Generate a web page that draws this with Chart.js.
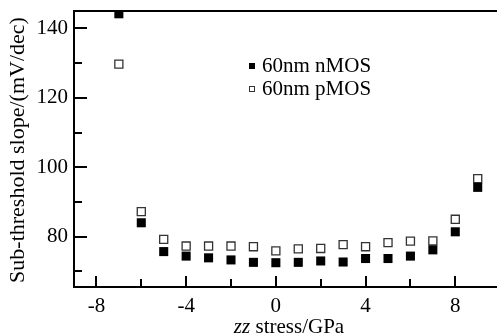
<!DOCTYPE html>
<html>
<head>
<meta charset="utf-8">
<script src="https://cdn.jsdelivr.net/npm/chart.js@4/dist/chart.umd.min.js"></script>
<style>
  html, body { margin: 0; padding: 0; background: #fff; overflow: hidden; }
  #wrap { width: 497px; height: 336px; }
</style>
</head>
<body>
<div id="wrap"><canvas id="chart"></canvas></div>
<script>
// data
const stress = [-7, -6, -5, -4, -3, -2, -1, 0, 1, 2, 3, 4, 5, 6, 7, 8, 9];
const nMOS = [144.2, 84.0, 75.7, 74.4, 73.9, 73.3, 72.6, 72.5, 72.6, 73.0, 72.7, 73.7, 73.7, 74.4, 76.2, 81.4, 94.2];
const pMOS = [129.7, 87.2, 79.2, 77.3, 77.3, 77.3, 77.1, 75.9, 76.5, 76.6, 77.7, 77.1, 78.3, 78.7, 78.8, 85.0, 96.7];
const seriesNames = ['60nm nMOS', '60nm pMOS'];
const xTicks = [-8, -4, 0, 4, 8];
const xMinor = [-6, -2, 2, 6];
const yTicks = [80, 100, 120, 140];
const yMinor = [70, 90, 110, 130];

const FONT = "'Liberation Serif', 'Times New Roman', serif";

// frame, inward ticks, legend and axis titles
const decor = {
    id: 'decor',
    afterDraw(chart) {
        const ctx = chart.ctx;
        const a = chart.chartArea;
        const xs = chart.scales.x, ys = chart.scales.y;
        ctx.save();
        ctx.strokeStyle = '#000';
        ctx.lineWidth = 2;
        ctx.beginPath();
        ctx.moveTo(a.left, a.top);
        ctx.lineTo(a.right, a.top);
        xTicks.forEach(v => { const p = Math.round(xs.getPixelForValue(v)); ctx.moveTo(p, a.bottom); ctx.lineTo(p, a.bottom - 11); });
        xMinor.forEach(v => { const p = Math.round(xs.getPixelForValue(v)); ctx.moveTo(p, a.bottom); ctx.lineTo(p, a.bottom - 8); });
        yTicks.forEach(v => { const p = Math.round(ys.getPixelForValue(v)); ctx.moveTo(a.left, p); ctx.lineTo(a.left + 13, p); });
        yMinor.forEach(v => { const p = Math.round(ys.getPixelForValue(v)); ctx.moveTo(a.left, p); ctx.lineTo(a.left + 8, p); });
        ctx.stroke();

        // legend
        ctx.font = '21px ' + FONT;
        ctx.fillStyle = '#000';
        ctx.textBaseline = 'middle';
        ctx.textAlign = 'left';
        const ly = [66, 89];
        ctx.fillRect(249, ly[0] - 3, 6, 6);
        ctx.fillText(seriesNames[0], 262, ly[0]);
        ctx.lineWidth = 1;
        ctx.strokeStyle = '#333';
        ctx.strokeRect(249.5, ly[1] - 2.5, 5, 5);
        ctx.fillText(seriesNames[1], 262, ly[1]);

        // x title with italic "zz"
        ctx.textBaseline = 'alphabetic';
        ctx.font = 'italic 21px ' + FONT;
        const w1 = ctx.measureText('zz').width;
        ctx.font = '21px ' + FONT;
        const w2 = ctx.measureText(' stress/GPa').width;
        let x0 = 289 - (w1 + w2) / 2;
        ctx.font = 'italic 21px ' + FONT;
        ctx.fillText('zz', x0, 333);
        ctx.font = '21px ' + FONT;
        ctx.fillText(' stress/GPa', x0 + w1, 333);

        // y title
        ctx.font = '22px ' + FONT;
        ctx.translate(18, 150);
        ctx.rotate(-Math.PI / 2);
        ctx.textAlign = 'center';
        ctx.textBaseline = 'middle';
        ctx.fillText('Sub-threshold slope/(mV/dec)', 0, 0);
        ctx.restore();
    }
};

const ctx = document.getElementById('chart').getContext('2d');
new Chart(ctx, {
    type: 'scatter',
    data: {
        datasets: [{
            label: seriesNames[0],
            data: stress.map((x, i) => ({ x: x, y: nMOS[i] })),
            pointStyle: 'rect',
            pointRadius: 6.4,
            pointBackgroundColor: '#000',
            pointBorderColor: '#000',
            pointBorderWidth: 0,
            clip: 0
        }, {
            label: seriesNames[1],
            data: stress.map((x, i) => ({ x: x, y: pMOS[i] })),
            pointStyle: 'rect',
            pointRadius: 5.7,
            pointBackgroundColor: '#fff',
            pointBorderColor: '#333',
            pointBorderWidth: 1.3,
            clip: 0
        }]
    },
    options: {
        responsive: true,
        maintainAspectRatio: false,
        animation: false,
        layout: { autoPadding: false, padding: { top: 11, right: 0, left: 0, bottom: 0 } },
        plugins: { legend: { display: false }, tooltip: { enabled: false } },
        scales: {
            x: {
                type: 'linear',
                min: -9,
                max: 9.86,
                afterBuildTicks: s => { s.ticks = xTicks.map(v => ({ value: v })); },
                afterFit: s => { s.height = 49; s.paddingLeft = 0; s.paddingRight = 0; },
                grid: { display: false, drawTicks: false },
                border: { display: true, color: '#000', width: 2 },
                ticks: { color: '#000', font: { family: FONT, size: 21 }, padding: 7, maxRotation: 0 }
            },
            y: {
                min: 65.5,
                max: 145,
                afterBuildTicks: s => { s.ticks = yTicks.map(v => ({ value: v })); },
                afterFit: s => { s.width = 74; s.paddingTop = 0; s.paddingBottom = 0; },
                grid: { display: false, drawTicks: false },
                border: { display: true, color: '#000', width: 2 },
                ticks: { color: '#000', font: { family: FONT, size: 21 }, padding: 6 }
            }
        }
    },
    plugins: [decor]
});
</script>
</body>
</html>
